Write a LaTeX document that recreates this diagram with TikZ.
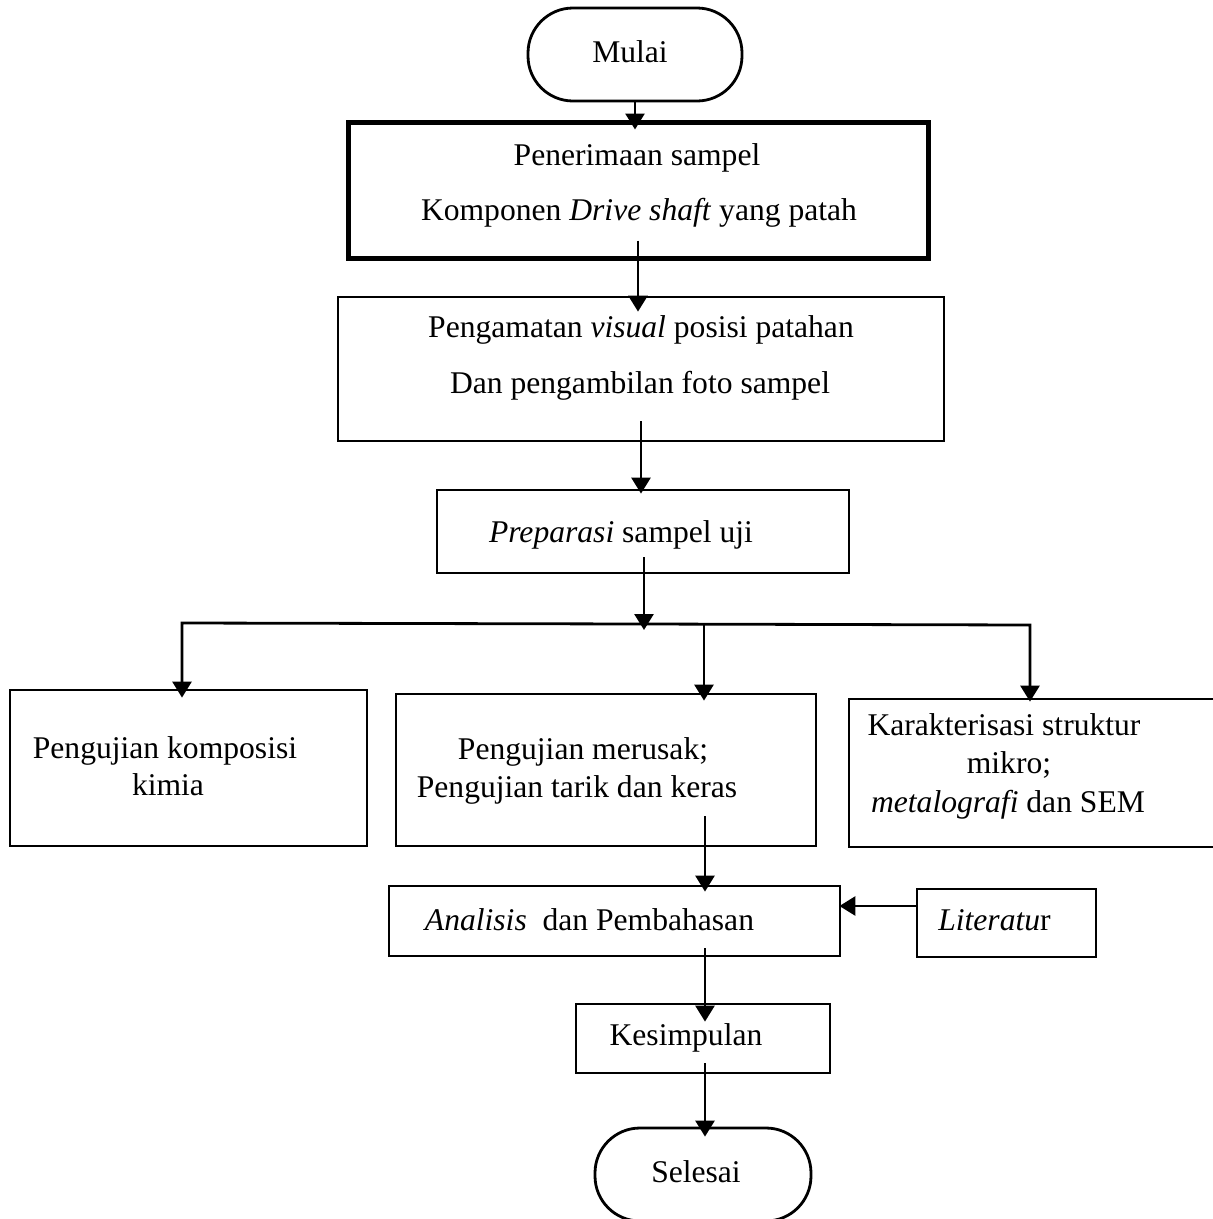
\documentclass[tikz,border=0pt]{standalone}
\usepackage{fontspec}
\setmainfont{Liberation Serif}
\usetikzlibrary{arrows.meta,calc}
\begin{document}
\begin{tikzpicture}[x=1pt,y=-1pt,
  box/.style={draw,line width=2.8pt,inner sep=0pt,line join=miter},
  txt/.style={inner sep=0pt,anchor=base,font=\fontsize{31.6}{38}\selectfont},
  arr/.style={line width=2.8pt,-{Triangle[length=16pt,width=19pt]}},
  ln/.style={line width=2.8pt}]
\useasboundingbox (0,0) rectangle (1213,1219);
% boxes
\node[box,rounded corners=45pt,minimum width=214pt,minimum height=93pt] (mulai) at (635,54.5) {};
\node[box,line width=5pt,minimum width=580pt,minimum height=136pt] (thick) at (638,190) {};
\node[box,minimum width=606pt,minimum height=144pt] (peng) at (641,369) {};
\node[box,minimum width=412pt,minimum height=83pt] (prep) at (643,531.5) {};
\node[box,minimum width=357pt,minimum height=156pt] (boxL) at (188.5,768) {};
\node[box,minimum width=420pt,minimum height=152pt] (boxM) at (606,770) {};
\node[box,minimum width=366pt,minimum height=148pt] (boxR) at (1032,773) {};
\node[box,minimum width=451pt,minimum height=70pt] (anal) at (614.5,921) {};
\node[box,minimum width=179pt,minimum height=68pt] (lit) at (1006.5,923) {};
\node[box,minimum width=254pt,minimum height=69pt] (kes) at (703,1038.5) {};
\node[box,rounded corners=45pt,minimum width=216pt,minimum height=93pt] (sel) at (703,1174.5) {};
% texts
\node[txt] (tmulai) at (630,62) {Mulai};
\node[txt] (t1a) at (637,165) {Penerimaan sampel};
\node[txt] (t1b) at (639,220) {Komponen \textit{Drive shaft} yang patah};
\node[txt] (t2a) at (641,337) {Pengamatan \textit{visual} posisi patahan};
\node[txt] (t2b) at (640,393) {Dan pengambilan foto sampel};
\node[txt] (t3) at (621,542) {\textit{Preparasi} sampel uji};
\node[txt] (tLa) at (165,758) {Pengujian komposisi};
\node[txt] (tLb) at (168,795) {kimia};
\node[txt] (tMa) at (583,759) {Pengujian merusak;};
\node[txt] (tMb) at (577,797) {Pengujian tarik dan keras};
\node[txt] (tRa) at (1004,735) {Karakterisasi struktur};
\node[txt] (tRb) at (1009,773) {mikro;};
\node[txt] (tRc) at (1008,812) {\textit{metalografi} dan SEM};
\node[txt] (tan) at (589.5,930) {\textit{Analisis}\ \ dan Pembahasan};
\node[txt] (tlit) at (994.5,930) {\textit{Literatu}r};
\node[txt] (tkes) at (686,1045) {Kesimpulan};
\node[txt] (tsel) at (696,1182) {Selesai};
% connectors
\coordinate (hub) at (644,624);
\coordinate (bl) at (182,623);
\coordinate (bm) at (704,624);
\coordinate (br) at (1030,625);
\coordinate (ax) at (705,0);
\draw[arr,shorten >=-10pt] (mulai.south) -- (mulai.south |- thick.north);
\draw[arr,shorten >=-16pt] ([yshift=20pt]thick.south) -- (thick.south |- peng.north);
\draw[arr,shorten >=-5pt] ([yshift=21pt]peng.south) -- (peng.south |- prep.north);
\draw[arr,shorten >=-6pt] ([yshift=17pt]prep.south -| hub) -- (hub);
\draw[arr,shorten >=-9pt] (hub) -- (bl) -- (bl |- boxL.north);
\draw[arr,shorten >=-4pt] (hub) -- (br) -- (br |- boxR.north);
\draw[arr,shorten >=-8pt] (bm) -- (bm |- boxM.north);
\draw[arr,shorten >=-7pt] ([yshift=31pt]boxM.south -| ax) -- (ax |- anal.north);
\draw[arr,shorten >=-2pt] ([yshift=17pt]lit.west) -- ([yshift=17pt]lit.west -| anal.east);
\draw[arr,shorten >=-19pt] ([yshift=9pt]anal.south -| ax) -- (ax |- kes.north);
\draw[arr,shorten >=-10pt] ([yshift=11pt]kes.south -| ax) -- (ax |- sel.north);
\end{tikzpicture}
\end{document}
